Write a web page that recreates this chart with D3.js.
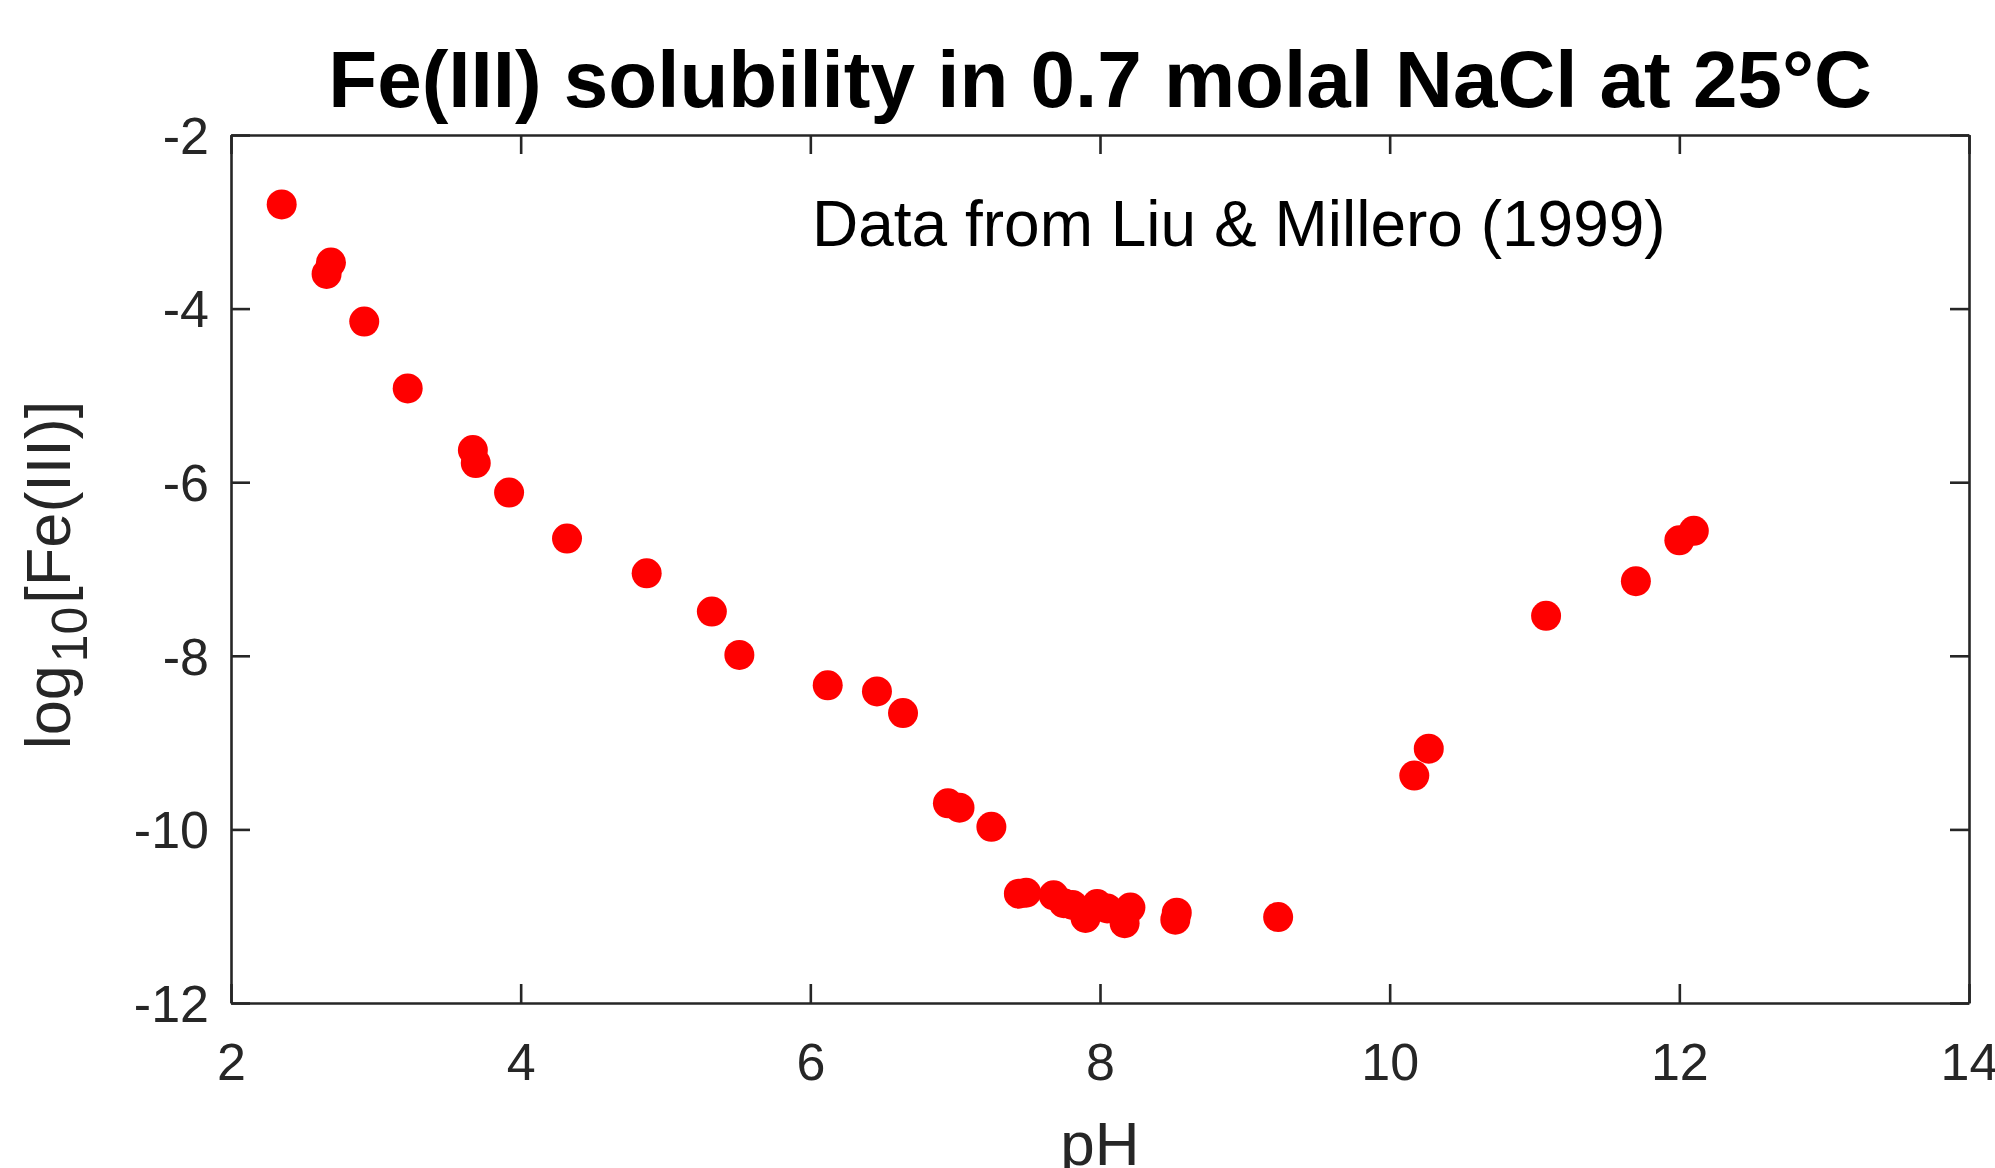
<!DOCTYPE html>
<html>
<head>
<meta charset="utf-8">
<script src="https://cdn.jsdelivr.net/npm/d3@7"></script>
<style>
  html, body { margin: 0; padding: 0; background: #fff; }
  svg { display: block; font-family: "Liberation Sans", Arial, Helvetica, sans-serif; }
</style>
</head>
<body>
<svg class="fe-chart" width="1995" height="1168"></svg>
<script>
// pH and log10[Fe(III)] (Liu & Millero 1999)
const pH = [
  2.35, 2.69, 2.66, 2.92, 3.22, 3.67, 3.69, 3.92, 4.32, 4.87, 5.32, 5.51,
  6.12, 6.46, 6.64, 6.95, 7.03, 7.25,
  7.44, 7.49, 7.68, 7.75, 7.81, 7.90, 7.98, 8.05, 8.17, 8.21, 8.52, 8.53,
  9.23, 10.17, 10.27, 11.08, 11.70, 12.00, 12.10
];
const logFe = [
  -2.80, -3.47, -3.60, -4.15, -4.92, -5.63, -5.78, -6.12, -6.65, -7.05, -7.49, -7.99,
  -8.34, -8.41, -8.66, -9.70, -9.75, -9.97,
  -10.74, -10.73, -10.76, -10.85, -10.87, -11.02, -10.86, -10.91, -11.08, -10.90, -11.04, -10.96,
  -11.01, -9.38, -9.07, -7.54, -7.14, -6.67, -6.56
];
const xTicks = [2, 4, 6, 8, 10, 12, 14];
const yTicks = [-12, -10, -8, -6, -4, -2];

const titleText = "Fe(III) solubility in 0.7 molal NaCl at 25\u00B0C";
const noteText = "Data from Liu & Millero (1999)";

var svg = d3.select("svg.fe-chart"),
  margin = { top: 135, right: 26, bottom: 165, left: 231 },
  width = +svg.attr("width") - margin.left - margin.right,
  height = +svg.attr("height") - margin.top - margin.bottom;

const axisColor = "#262626";
const TICK = 19;
// plain hyphen minus like the original
const fmt = (d) => String(d);

const xScale = d3.scaleLinear().domain([2, 14]).range([0, width]);
const yScale = d3.scaleLinear().domain([-12, -2]).range([height, 0]);

const chartG = svg
  .append("g")
  .attr("transform", `translate(${margin.left}, ${margin.top})`);

const styleAxis = (g) => {
  g.select(".domain").attr("stroke", axisColor).attr("stroke-width", 2.6);
  g.selectAll(".tick line").attr("stroke", axisColor).attr("stroke-width", 2.6);
  g.selectAll(".tick text")
    .attr("fill", axisColor)
    .style("font-size", "52px")
    .style("font-family", '"Liberation Sans", Arial, Helvetica, sans-serif');
};

// bottom / left with labels, ticks pointing inward
chartG
  .append("g")
  .attr("class", "x axis")
  .attr("transform", `translate(0, ${height})`)
  .call(d3.axisBottom(xScale).tickValues(xTicks).tickFormat(fmt).tickSizeInner(-TICK).tickSizeOuter(0))
  .call(styleAxis)
  .call((g) => g.selectAll(".tick text").attr("dy", "0.71em").attr("y", 40));

chartG
  .append("g")
  .attr("class", "y axis")
  .call(d3.axisLeft(yScale).tickValues(yTicks).tickFormat(fmt).tickSizeInner(-TICK).tickSizeOuter(0))
  .call(styleAxis)
  .call((g) => g.selectAll(".tick text").attr("x", -22).attr("dy", "0.35em"));

// top / right mirror ticks, no labels
chartG
  .append("g")
  .attr("class", "x axis top")
  .call(d3.axisTop(xScale).tickValues(xTicks).tickSizeInner(-TICK).tickSizeOuter(0).tickFormat(""))
  .call(styleAxis);

chartG
  .append("g")
  .attr("class", "y axis right")
  .attr("transform", `translate(${width}, 0)`)
  .call(d3.axisRight(yScale).tickValues(yTicks).tickSizeInner(-TICK).tickSizeOuter(0).tickFormat(""))
  .call(styleAxis);

// markers
chartG
  .selectAll("circle.pt")
  .data(pH.map((p, i) => ({ p: p, v: logFe[i] })))
  .enter()
  .append("circle")
  .attr("class", "pt")
  .attr("cx", (d) => xScale(d.p))
  .attr("cy", (d) => yScale(d.v))
  .attr("r", 15)
  .attr("fill", "#ff0000");

// title
svg
  .append("text")
  .attr("x", margin.left + width / 2)
  .attr("y", 107)
  .attr("text-anchor", "middle")
  .style("font-size", "80px")
  .style("font-weight", "bold")
  .attr("fill", "#000")
  .text(titleText);

// annotation
svg
  .append("text")
  .attr("x", 812)
  .attr("y", 246)
  .style("font-size", "64px")
  .attr("fill", "#000")
  .text(noteText);

// x label
svg
  .append("text")
  .attr("x", margin.left + width / 2)
  .attr("y", 1165)
  .attr("text-anchor", "middle")
  .style("font-size", "62px")
  .attr("fill", axisColor)
  .text("pH");

// y label with subscript
const yl = svg
  .append("text")
  .attr("transform", `translate(70, ${margin.top + height / 2 + 6}) rotate(-90)`)
  .attr("text-anchor", "middle")
  .style("font-size", "63px")
  .attr("fill", axisColor);
yl.append("tspan").text("log");
yl.append("tspan").attr("dy", 17).attr("dx", 3).style("font-size", "50px").text("10");
yl.append("tspan").attr("dy", -17).attr("dx", 3).text("[Fe(III)]");
</script>
</body>
</html>
